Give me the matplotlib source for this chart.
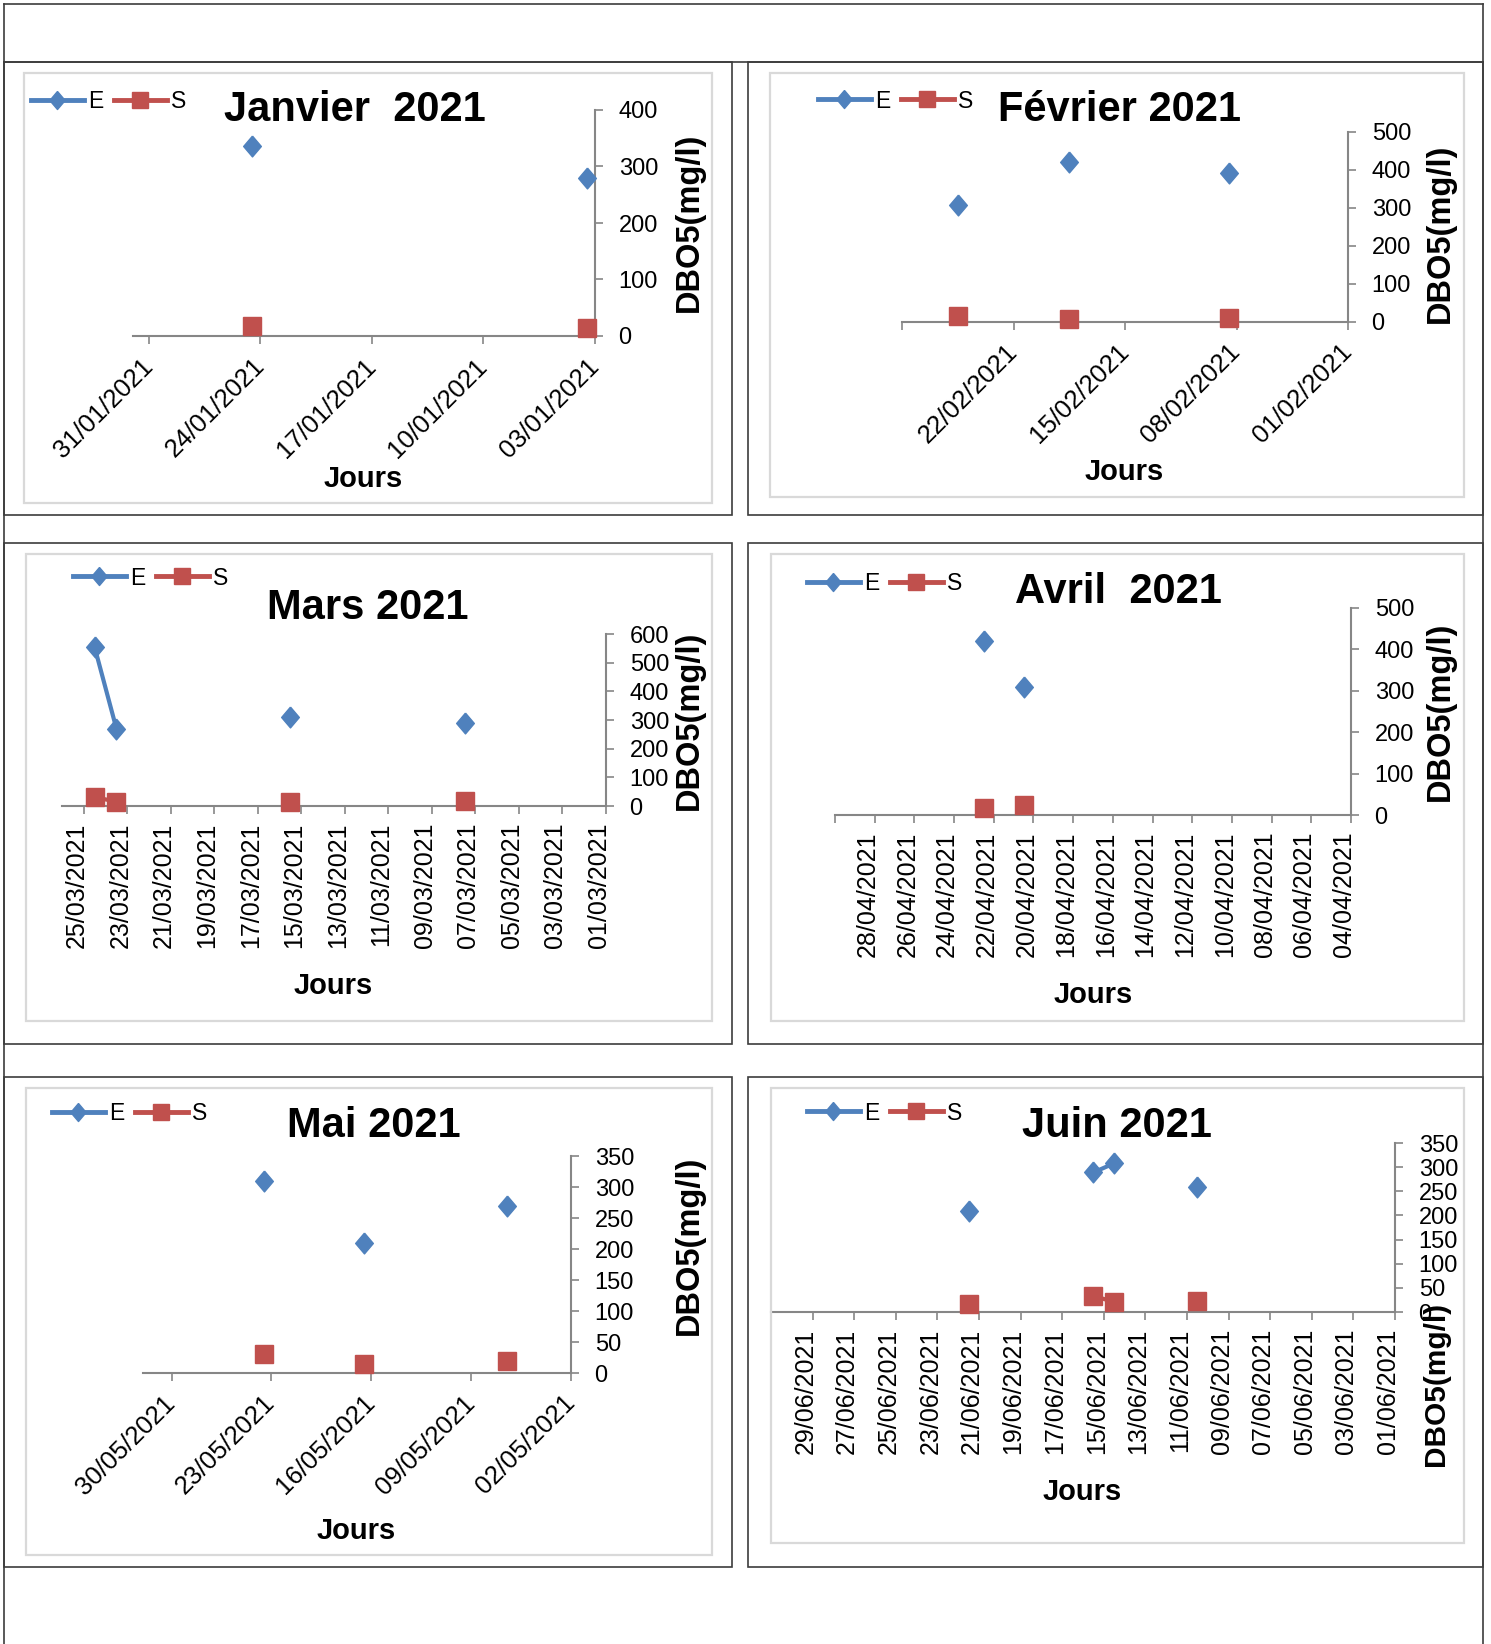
import matplotlib
matplotlib.use("Agg")
import matplotlib.pyplot as plt
import matplotlib.dates as mdates
from matplotlib.lines import Line2D
from matplotlib.patches import Rectangle
import pandas as pd

W, H, DPI = 1491, 1644, 100
plt.rcParams['font.family'] = ['Liberation Sans', 'DejaVu Sans']

BLUE = '#4F81BD'
RED = '#C0504D'
AXIS_GREY = '#868686'
FRAME = '#3C3C3C'
PANEL_EDGE = '#D9D9D9'

# ---- DBO5 (mg/l): E = entrée, S = sortie ----
jan_dates = ['2021-01-03', '2021-01-24']
jan_E = [280, 337]
jan_S = [15, 18]

feb_dates = ['2021-02-08', '2021-02-18', '2021-02-25']
feb_E = [391, 420, 309]
feb_S = [10, 8, 17]

mar_dates = ['2021-03-07', '2021-03-15', '2021-03-23', '2021-03-24']
mar_E = [291, 310, 270, 554]
mar_S = [16, 14, 15, 31]

apr_dates = ['2021-04-20', '2021-04-22']
apr_E = [309, 420]
apr_S = [24, 16]

may_dates = ['2021-05-06', '2021-05-16', '2021-05-23']
may_E = [269, 209, 309]
may_S = [20, 15, 31]

jun_dates = ['2021-06-10', '2021-06-14', '2021-06-15', '2021-06-21']
jun_E = [259, 308, 289, 209]
jun_S = [22, 21, 33, 17]

# ---- date tick labels ----
jan_ticks = ['31/01/2021', '24/01/2021', '17/01/2021', '10/01/2021', '03/01/2021']
feb_ticks = ['22/02/2021', '15/02/2021', '08/02/2021', '01/02/2021']
mar_ticks = ['25/03/2021', '23/03/2021', '21/03/2021', '19/03/2021', '17/03/2021',
             '15/03/2021', '13/03/2021', '11/03/2021', '09/03/2021', '07/03/2021',
             '05/03/2021', '03/03/2021', '01/03/2021']
apr_ticks = ['28/04/2021', '26/04/2021', '24/04/2021', '22/04/2021', '20/04/2021',
             '18/04/2021', '16/04/2021', '14/04/2021', '12/04/2021', '10/04/2021',
             '08/04/2021', '06/04/2021', '04/04/2021']
may_ticks = ['30/05/2021', '23/05/2021', '16/05/2021', '09/05/2021', '02/05/2021']
jun_ticks = ['29/06/2021', '27/06/2021', '25/06/2021', '23/06/2021', '21/06/2021',
             '19/06/2021', '17/06/2021', '15/06/2021', '13/06/2021', '11/06/2021',
             '09/06/2021', '07/06/2021', '05/06/2021', '03/06/2021', '01/06/2021']

titles = ['Janvier  2021', 'Février 2021', 'Mars 2021', 'Avril  2021', 'Mai 2021', 'Juin 2021']
y_max = [400, 500, 600, 500, 350, 350]
y_step = [100, 100, 100, 100, 50, 50]
x_label = 'Jours'
y_label = 'DBO5(mg/l)'

series = [
    (jan_dates, jan_E, jan_S, jan_ticks),
    (feb_dates, feb_E, feb_S, feb_ticks),
    (mar_dates, mar_E, mar_S, mar_ticks),
    (apr_dates, apr_E, apr_S, apr_ticks),
    (may_dates, may_E, may_S, may_ticks),
    (jun_dates, jun_E, jun_S, jun_ticks),
]

# ---- page layout, in pixels from the top-left corner ----
layout = [
    dict(ax=(133, 595, 110, 336), xlim=('2021-02-01', '2021-01-03'), end_tick=None, rot=45,
         cell=(4, 62, 732, 515), inner=(24, 73, 712, 503),
         title=(355, 110), legend=(31, 102), xlab=(363, 479), ylab=(689, 222), ylab_size=23.5),
    dict(ax=(902, 1348, 132, 322), xlim=('2021-03-01', '2021-02-01'), end_tick='2021-03-01', rot=45,
         cell=(748, 62, 1483, 515), inner=(770, 73, 1464, 497),
         title=(1120, 110), legend=(818, 101), xlab=(1124, 472), ylab=(1440, 233), ylab_size=23.5),
    dict(ax=(62, 606, 634, 806), xlim=('2021-03-26', '2021-03-01'), end_tick=None, rot=90,
         cell=(4, 543, 732, 1044), inner=(26, 554, 712, 1021),
         title=(368, 608), legend=(73, 578), xlab=(333, 986), ylab=(689, 720), ylab_size=23.5),
    dict(ax=(835, 1351, 608, 815), xlim=('2021-04-30', '2021-04-04'), end_tick='2021-04-30', rot=90,
         cell=(748, 543, 1483, 1044), inner=(771, 554, 1464, 1021),
         title=(1118, 592), legend=(807, 584), xlab=(1093, 995), ylab=(1440, 711), ylab_size=23.5),
    dict(ax=(143, 571, 1156, 1373), xlim=('2021-06-01', '2021-05-02'), end_tick=None, rot=45,
         cell=(4, 1077, 732, 1567), inner=(26, 1088, 712, 1555),
         title=(374, 1126), legend=(52, 1114), xlab=(356, 1531), ylab=(689, 1245), ylab_size=23.5),
    dict(ax=(771, 1395, 1143, 1312), xlim=('2021-07-01', '2021-06-01'), end_tick='2021-07-01', rot=90,
         cell=(748, 1077, 1483, 1567), inner=(771, 1088, 1464, 1543),
         title=(1117, 1126), legend=(807, 1113), xlab=(1082, 1492), ylab=(1436, 1384), ylab_size=21.5),
]

DIAMOND = [(0, 1), (0.85, 0), (0, -1), (-0.85, 0), (0, 1)]


def fx(x):
    return x / W


def fy(y):
    return 1 - y / H


def hline(fig, x0, x1, y, **kw):
    fig.add_artist(Line2D([fx(x0), fx(x1)], [fy(y), fy(y)], transform=fig.transFigure, **kw))


def vline(fig, x, y0, y1, **kw):
    fig.add_artist(Line2D([fx(x), fx(x)], [fy(y0), fy(y1)], transform=fig.transFigure, **kw))


def daily(dates, values):
    """Daily series with gaps, plotted at mid-day."""
    s = pd.Series(values, index=pd.to_datetime(dates), dtype=float).asfreq('D')
    x = mdates.date2num((s.index + pd.Timedelta(hours=12)).to_pydatetime())
    return x, s.values


fig = plt.figure(figsize=(W / DPI, H / DPI), dpi=DPI)

# page frame
frame_kw = dict(color=FRAME, lw=1.2)
hline(fig, 4, 1483, 4, **frame_kw)
hline(fig, 4, 1483, 62, **frame_kw)
vline(fig, 4, 4, H, **frame_kw)
vline(fig, 1483, 4, H, **frame_kw)

for (dates, E, S, ticks), title, ymax, ystep, L in zip(series, titles, y_max, y_step, layout):
    # cell and chart-area borders
    x0, y0, x1, y1 = L['cell']
    fig.add_artist(Rectangle((fx(x0), fy(y1)), fx(x1) - fx(x0), fy(y0) - fy(y1),
                             transform=fig.transFigure, fill=False, ec=FRAME, lw=1.2))
    x0, y0, x1, y1 = L['inner']
    fig.add_artist(Rectangle((fx(x0), fy(y1)), fx(x1) - fx(x0), fy(y0) - fy(y1),
                             transform=fig.transFigure, fill=False, ec=PANEL_EDGE, lw=1.6))

    left, right, top, bottom = L['ax']
    ax = fig.add_axes([fx(left), fy(bottom), fx(right) - fx(left), fy(top) - fy(bottom)])
    ax.patch.set_alpha(0)

    xe, ye = daily(dates, E)
    xs, ys = daily(dates, S)
    ax.plot(xe, ye, color=BLUE, lw=3, marker=DIAMOND, ms=15, mec=BLUE, mfc=BLUE,
            clip_on=False, zorder=4)
    ax.plot(xs, ys, color=RED, lw=3, marker='s', ms=13.5, mec=RED, mfc=RED,
            clip_on=False, zorder=4)

    xl = mdates.date2num(pd.to_datetime(list(L['xlim'])).to_pydatetime())
    ax.set_xlim(xl[0], xl[1])
    ax.set_ylim(0, ymax)
    ax.set_yticks(range(0, ymax + 1, ystep))

    tick_dates = pd.to_datetime(ticks, format='%d/%m/%Y')
    tick_pos = list(mdates.date2num(tick_dates.to_pydatetime()))
    tick_lab = list(ticks)
    if L['end_tick']:
        tick_pos.append(mdates.date2num(pd.Timestamp(L['end_tick']).to_pydatetime()))
        tick_lab.append('')
    ax.set_xticks(tick_pos)
    if L['rot'] == 45:
        ax.set_xticklabels(tick_lab, rotation=45, ha='right', va='center',
                           rotation_mode='anchor', fontsize=18.5)
        xpad = 13
    else:
        ax.set_xticklabels(tick_lab, rotation=90, ha='right', va='baseline',
                           rotation_mode='anchor', fontsize=18)
        xpad = 6

    for side in ('left', 'top'):
        ax.spines[side].set_visible(False)
    for side in ('bottom', 'right'):
        ax.spines[side].set_color(AXIS_GREY)
        ax.spines[side].set_linewidth(1.5)
    ax.yaxis.tick_right()
    ax.tick_params(axis='y', direction='out', length=6, width=1.2, color=AXIS_GREY,
                   pad=11, labelsize=17)
    ax.tick_params(axis='x', direction='out', length=6, width=1.2, color=AXIS_GREY, pad=xpad)

    # legend
    handles = [
        Line2D([], [], color=BLUE, lw=3.5, marker=DIAMOND, ms=13, mec=BLUE, mfc=BLUE),
        Line2D([], [], color=RED, lw=3.5, marker='s', ms=11.5, mec=RED, mfc=RED),
    ]
    lx, ly = L['legend']
    fig.legend(handles, ['E', 'S'], loc='center left', bbox_to_anchor=(fx(lx), fy(ly)),
               ncol=2, frameon=False, fontsize=16.5, handlelength=2.3, handletextpad=0.2,
               columnspacing=0.45, borderpad=0, borderaxespad=0)

    tx, ty = L['title']
    fig.text(fx(tx), fy(ty), title, ha='center', va='center', fontsize=30, fontweight='bold')
    jx, jy = L['xlab']
    fig.text(fx(jx), fy(jy), x_label, ha='center', va='center', fontsize=21, fontweight='bold')
    dx, dy = L['ylab']
    fig.text(fx(dx), fy(dy), y_label, ha='center', va='center', rotation=90,
             fontsize=L['ylab_size'], fontweight='bold', zorder=10)

fig.savefig('out.png', dpi=DPI, facecolor='white')
